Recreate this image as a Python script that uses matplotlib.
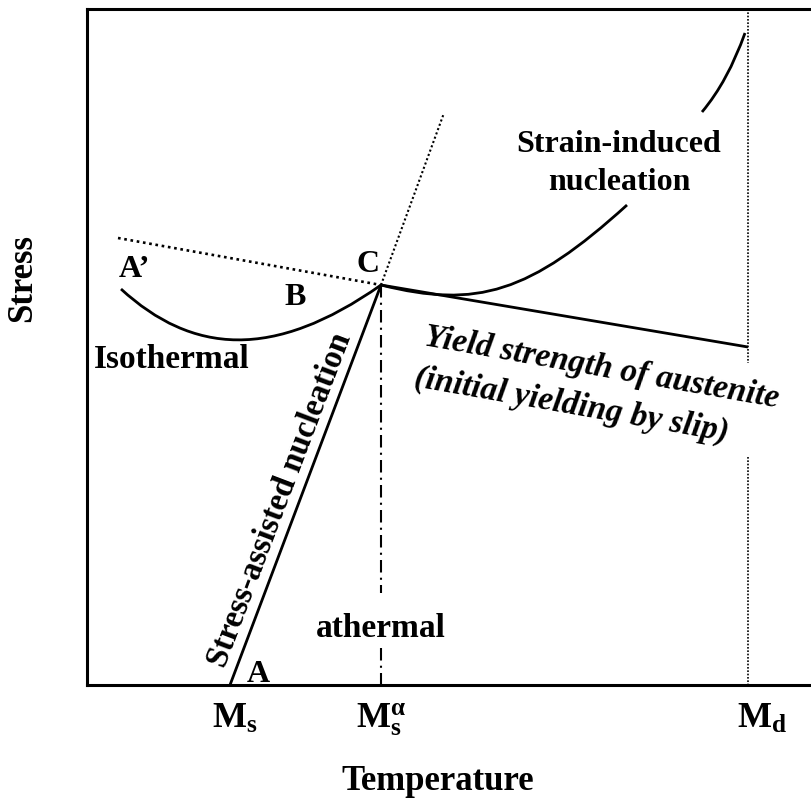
import matplotlib
matplotlib.use("Agg")
import matplotlib.pyplot as plt
from matplotlib.path import Path
from matplotlib.patches import PathPatch

plt.rcParams["font.family"] = ["Liberation Serif", "DejaVu Serif"]
plt.rcParams["font.weight"] = "bold"
plt.rcParams["mathtext.fontset"] = "custom"
plt.rcParams["mathtext.rm"] = "Liberation Serif:bold"
plt.rcParams["mathtext.bf"] = "Liberation Serif:bold"
plt.rcParams["mathtext.it"] = "Liberation Serif:bold"

# characteristic temperatures (arbitrary units along the temperature axis)
MS = 143
MS_ALPHA = 294
MD = 661
TEMP_TICKS = [MS, MS_ALPHA, MD]
TEMP_LABELS = [r"$\mathbf{M_s}$", r"$\mathbf{M_s^{\alpha}}$", r"$\mathbf{M_d}$"]
TICK_SHIFT = [5, 0, 14]

# point C where the curves meet
C_T, C_S = 294, 400

# stress-assisted nucleation: A -> C, then dotted continuation
ASSIST_T = [MS, C_T]
ASSIST_S = [0, C_S]
ASSIST_EXT_T = [C_T, 357]
ASSIST_EXT_S = [C_S, 572]

# dotted line A' -> C
APRIME_T = [31, C_T]
APRIME_S = [447, C_S]

# isothermal curve (cubic Bezier control points)
ISO_T = [34, 105, 186, C_T]
ISO_S = [396, 331, 324, C_S]

# strain-induced nucleation curve, lower and upper pieces (Bezier control points)
STRAIN_LO_T = [C_T, 390, 443, 540]
STRAIN_LO_S = [C_S, 376, 392, 480]
STRAIN_HI_T = [615, 641, 658]
STRAIN_HI_S = [573, 604, 652]

# yield strength of austenite
YIELD_T = [C_T, MD]
YIELD_S = [C_S, 338]

# vertical guide lines (pieces around the labels)
MSA_LINE_S = [[C_S, 92], [37, 0]]
MD_LINE_S = [[676, 322], [228, 0]]

fig = plt.figure(figsize=(8.11, 8.0), dpi=100)
ax = fig.add_axes([87 / 811, 115 / 800, 1 - 87 / 811, 676 / 800])
ax.set_xlim(0, 724)
ax.set_ylim(0, 676)

for side in ("top", "bottom", "left"):
    ax.spines[side].set_linewidth(2.2)
ax.spines["right"].set_visible(False)
ax.set_xticks([])
ax.set_yticks([])

solid = dict(color="black", lw=2.0, solid_capstyle="butt")
ax.plot(ASSIST_T, ASSIST_S, **solid)
ax.plot(YIELD_T, YIELD_S, **solid)
ax.plot(ASSIST_EXT_T, ASSIST_EXT_S, color="black", lw=1.5, ls=(0, (1, 1.2)))
ax.plot(APRIME_T, APRIME_S, color="black", lw=1.9, ls=(0, (1, 1.4)))


def bezier(ts, ss):
    codes = [Path.MOVETO] + [Path.CURVE4 if len(ts) == 4 else Path.CURVE3] * (len(ts) - 1)
    path = Path(list(zip(ts, ss)), codes)
    ax.add_patch(PathPatch(path, fc="none", ec="black", lw=2.0))


bezier(ISO_T, ISO_S)
bezier(STRAIN_LO_T, STRAIN_LO_S)
bezier(STRAIN_HI_T, STRAIN_HI_S)

for seg in MSA_LINE_S:
    ax.plot([MS_ALPHA, MS_ALPHA], seg, color="black", lw=1.5, ls=(0, (6, 2.5, 1, 2.5)))
for seg in MD_LINE_S:
    ax.plot([MD, MD], seg, color="black", lw=1.2, ls=(0, (1, 1)))

# temperature markers under the axis
for t, lab, dx in zip(TEMP_TICKS, TEMP_LABELS, TICK_SHIFT):
    ax.annotate(lab, xy=(t, 0), xytext=(dx, -43), textcoords="offset pixels",
                ha="center", va="baseline", fontsize=26)

ax.text(351, -105, "Temperature", ha="center", va="baseline", fontsize=25)
ax.text(-64, 407, "Stress", rotation=90, ha="center", va="center", fontsize=25)

ax.text(532, 533, "Strain-induced", ha="center", va="baseline", fontsize=23)
ax.text(532, 495, "nucleation", ha="center", va="baseline", fontsize=23)
ax.text(85, 317, "Isothermal", ha="center", va="baseline", fontsize=24)
ax.text(294, 48, "athermal", ha="center", va="baseline", fontsize=24)

ax.text(47, 408, "A\u2019", ha="center", va="baseline", fontsize=23)
ax.text(208, 380, "B", ha="center", va="baseline", fontsize=23)
ax.text(281, 413, "C", ha="center", va="baseline", fontsize=23)
ax.text(171, 3, "A", ha="center", va="baseline", fontsize=23)

ax.text(201, 182, "Stress-assisted nucleation", rotation=69.2, rotation_mode="anchor",
        ha="center", va="baseline", fontsize=23.6)

ax.text(336, 340, "Yield strength of austenite", rotation=-10, rotation_mode="anchor",
        ha="left", va="baseline", fontsize=24, style="italic")
ax.text(326, 299, "(initial yielding by slip)", rotation=-10, rotation_mode="anchor",
        ha="left", va="baseline", fontsize=24, style="italic")

fig.savefig("out.png", dpi=100)
